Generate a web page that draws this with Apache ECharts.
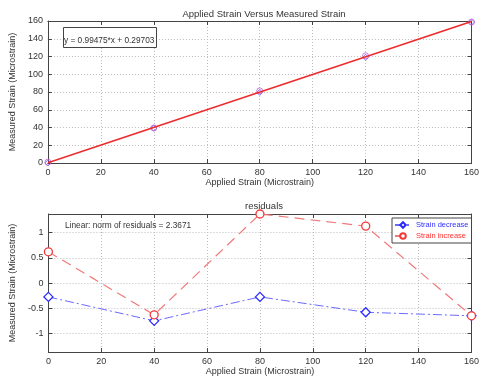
<!DOCTYPE html>
<html>
<head>
<meta charset="utf-8">
<script src="https://cdn.jsdelivr.net/npm/echarts@6/dist/echarts.min.js"></script>
<style>
  html, body { margin: 0; padding: 0; background: #ffffff; }
  #chart { width: 482px; height: 377px; }
</style>
</head>
<body>
<div id="chart"></div>
<script>
// Applied strain steps (microstrain)
const appliedStrain = [0, 40, 80, 120, 160];

// Measured strain at each step
const measuredDecrease = [0.02, 39.34, 79.60, 119.09, 158.81];
const measuredIncrease = [0.92, 39.46, 81.25, 120.80, 158.81];

// Linear fit coefficients
const fitSlope = 0.99475;
const fitIntercept = 0.29703;
const fitRange = [0, 160];

// Residuals of each run against the fit
const residualDecrease = [-0.275, -0.75, -0.275, -0.58, -0.65];
const residualIncrease = [0.62, -0.63, 1.37, 1.13, -0.65];
const residualNorm = '2.3671';

// Axis ticks
const strainTicks = [0, 20, 40, 60, 80, 100, 120, 140, 160];
const residualTicks = [-1, -0.5, 0, 0.5, 1];
const residualLimit = 1.37;

const font = 'Liberation Sans, Arial, sans-serif';
const txt = '#333333';

const pairs = (xs, ys) => xs.map((x, i) => [x, ys[i]]);
const fitLine = fitRange.map(x => [x, fitSlope * x + fitIntercept]);

function baseAxis(extra) {
  return Object.assign({
    type: 'value',
    axisLine: { show: true, onZero: false, lineStyle: { color: '#444', width: 1 } },
    axisTick: { show: true, inside: true, length: 4, customValues: strainTicks, lineStyle: { color: '#444' } },
    splitLine: { show: true, lineStyle: { color: '#bdbdbd', type: [1, 2], width: 1 } },
    axisLabel: { color: txt, fontSize: 9, fontFamily: font, margin: 5, customValues: strainTicks },
    nameTextStyle: { color: txt, fontSize: 9, fontFamily: font }
  }, extra);
}
function mirrorAxis(extra) {
  return Object.assign({
    type: 'value',
    axisLine: { show: true, onZero: false, lineStyle: { color: '#444', width: 1 } },
    axisTick: { show: true, inside: true, length: 4, customValues: strainTicks, lineStyle: { color: '#444' } },
    splitLine: { show: false },
    axisLabel: { show: false }
  }, extra);
}

const chart = echarts.init(document.getElementById('chart'), null, { renderer: 'canvas' });

chart.setOption({
  backgroundColor: '#ffffff',
  animation: false,
  title: [
    {
      text: 'Applied Strain Versus Measured Strain',
      left: 259, top: 4, textAlign: 'center',
      textStyle: { fontSize: 9.5, fontWeight: 'normal', color: txt, fontFamily: font }
    },
    {
      text: 'y = 0.99475*x + 0.29703',
      left: 63, top: 27,
      padding: [10, 2, 3, 1],
      borderColor: '#444', borderWidth: 1, backgroundColor: '#ffffff',
      textStyle: { fontSize: 8.3, fontWeight: 'normal', color: txt, fontFamily: font }
    },
    {
      text: 'residuals',
      left: 259, top: 196, textAlign: 'center',
      textStyle: { fontSize: 9.5, fontWeight: 'normal', color: txt, fontFamily: font }
    },
    {
      text: 'Linear: norm of residuals = ' + residualNorm,
      left: 65, top: 222, padding: 0,
      textStyle: { fontSize: 8.3, fontWeight: 'normal', color: txt, fontFamily: font }
    }
  ],
  legend: {
    data: [
      { name: 'Strain decrease', textStyle: { color: '#3030ff' } },
      { name: 'Strain increase', textStyle: { color: '#ff3030' } }
    ],
    orient: 'vertical',
    left: 392, top: 218,
    padding: [3, 3, 3, 2],
    itemGap: 3,
    itemWidth: 16, itemHeight: 7,
    borderColor: '#444', borderWidth: 1, borderRadius: 0,
    backgroundColor: '#ffffff',
    textStyle: { fontSize: 7.5, fontFamily: font }
  },
  grid: [
    { left: 43, top: 21, width: 433, height: 142, show: false },
    { left: 43, top: 214, width: 433, height: 141, show: false }
  ],
  xAxis: [
    baseAxis({
      gridIndex: 0, min: 0, max: 160,
      name: 'Applied Strain (Microstrain)', nameLocation: 'middle', nameGap: 12
    }),
    baseAxis({
      gridIndex: 1, min: 0, max: 160,
      name: 'Applied Strain (Microstrain)', nameLocation: 'middle', nameGap: 12
    }),
    mirrorAxis({ gridIndex: 0, position: 'top', min: 0, max: 160 }),
    mirrorAxis({ gridIndex: 1, position: 'top', min: 0, max: 160 })
  ],
  yAxis: [
    baseAxis({
      gridIndex: 0, min: 0, max: 160,
      name: 'Measured Strain (Microstrain)', nameLocation: 'middle', nameGap: 17
    }),
    baseAxis({
      gridIndex: 1, min: -residualLimit, max: residualLimit,
      axisTick: { show: true, inside: true, length: 4, customValues: residualTicks, lineStyle: { color: '#444' } },
      axisLabel: { color: txt, fontSize: 9, fontFamily: font, margin: 5, customValues: residualTicks },
      name: 'Measured Strain (Microstrain)', nameLocation: 'middle', nameGap: 21
    }),
    mirrorAxis({ gridIndex: 0, position: 'right', min: 0, max: 160 }),
    mirrorAxis({
      gridIndex: 1, position: 'right', min: -residualLimit, max: residualLimit,
      axisTick: { show: true, inside: true, length: 4, customValues: residualTicks, lineStyle: { color: '#444' } }
    })
  ],
  series: [
    {
      name: 'Strain decrease data', type: 'scatter', xAxisIndex: 0, yAxisIndex: 0,
      data: pairs(appliedStrain, measuredDecrease),
      symbol: 'diamond', symbolSize: 6,
      itemStyle: { color: 'transparent', borderColor: '#6a5cff', borderWidth: 1 }
    },
    {
      name: 'Strain increase data', type: 'scatter', xAxisIndex: 0, yAxisIndex: 0,
      data: pairs(appliedStrain, measuredIncrease),
      symbol: 'circle', symbolSize: 6,
      itemStyle: { color: 'transparent', borderColor: '#c05ad0', borderWidth: 1 }
    },
    {
      name: 'Linear fit', type: 'line', xAxisIndex: 0, yAxisIndex: 0,
      data: fitLine, showSymbol: false, symbol: 'none',
      lineStyle: { color: '#ee2a2a', width: 1.5 }
    },
    {
      name: 'Strain decrease', type: 'line', xAxisIndex: 1, yAxisIndex: 1,
      data: pairs(appliedStrain, residualDecrease),
      symbol: 'diamond', symbolSize: 9,
      itemStyle: { color: '#ffffff', borderColor: '#2a2aff', borderWidth: 1.3 },
      lineStyle: { color: '#6a6aff', width: 1, type: [9, 3, 2, 3] }
    },
    {
      name: 'Strain increase', type: 'line', xAxisIndex: 1, yAxisIndex: 1,
      data: pairs(appliedStrain, residualIncrease),
      symbol: 'circle', symbolSize: 8,
      itemStyle: { color: '#ffffff', borderColor: '#f03a3a', borderWidth: 1.3 },
      lineStyle: { color: '#f07a7a', width: 1.2, type: [10, 6] }
    }
  ]
});
</script>
</body>
</html>
